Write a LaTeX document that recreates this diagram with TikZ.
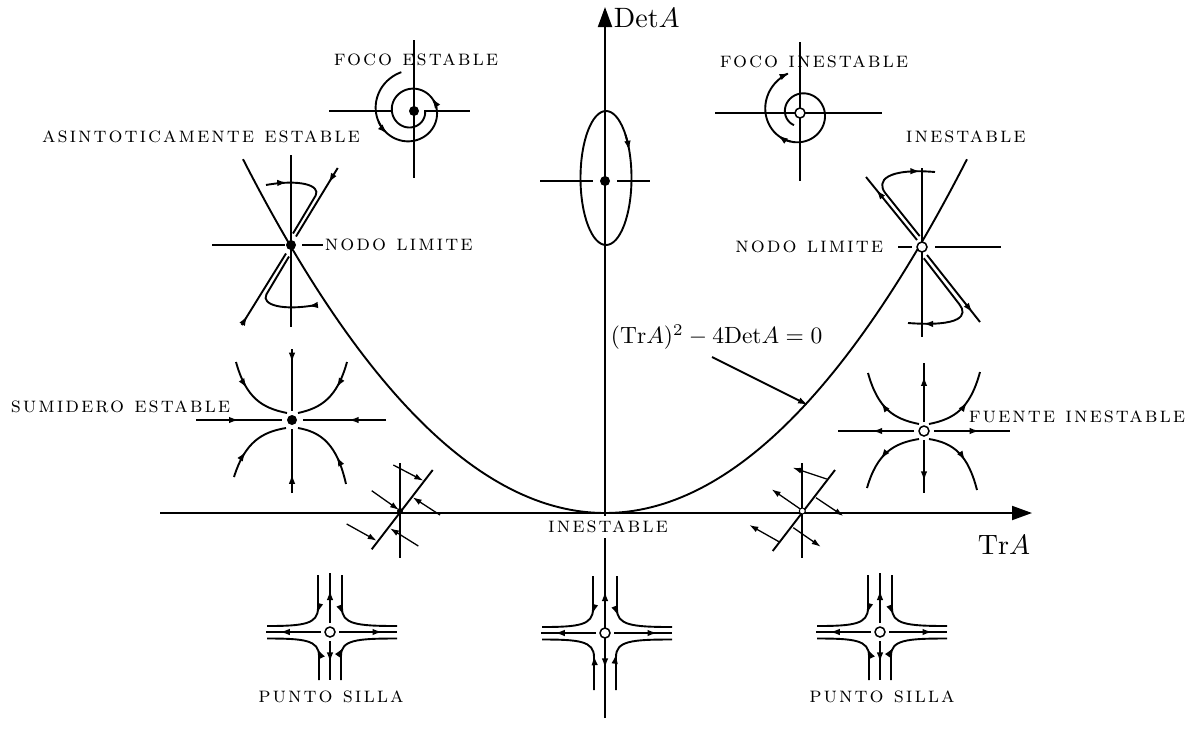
\documentclass[tikz,border=0pt]{standalone}
\usepackage{fontspec}
\newfontfamily\lblfont{lmromancaps10-regular.otf}[LetterSpace=9]
\usetikzlibrary{arrows.meta,decorations.markings}
\begin{document}
\begin{tikzpicture}[x=1pt,y=-1pt,line width=1.9pt,
  >={Latex[length=10pt,width=6.5pt]},
  arr/.style={postaction={decorate,decoration={markings,mark=at position #1 with {\arrow{>}}}}},
  bdot/.style={circle,fill=black,draw=none,inner sep=0pt,minimum size=10pt},
  wdot/.style={circle,draw=black,fill=white,inner sep=0pt,minimum size=10pt,line width=1.5pt},
  lbl/.style={inner sep=0pt,font=\lblfont\fontsize{22}{24}\selectfont},
  axisarrow/.style={-{Triangle[length=20pt,width=14pt]}},
  thin arrows/.style={line width=1.3pt,>={Latex[length=9pt,width=6pt]}},
  pics/saddle/.style={code={
    \draw[arr=0.75] (-9,0)--(-64,0);
    \draw[arr=0.75] (9,0)--(67,0);
    \draw[arr=0.66] (0,-9)--(0,-59);
    \draw[arr=0.55] (0,9)--(0,#1);
    \draw[arr=0.41] (-12,-57)--(-12,-24) .. controls (-12,-8) and (-26,-6) .. (-63,-6);
    \draw[arr=0.41] (12,-57)--(12,-24) .. controls (12,-8) and (26,-6) .. (67,-6);
    \draw[arr=0.37] (-11,#1)--(-11,24) .. controls (-11,8) and (-26,6.5) .. (-63,6.5);
    \draw[arr=0.37] (11,#1)--(11,24) .. controls (11,8) and (26,6.5) .. (67,6.5);
    \node[wdot] at (0,0) {};
  }}
]
\fill[white] (0,0) rectangle (1185,745);
\useasboundingbox (0,0) rectangle (1185,745);

% axes
\draw[axisarrow] (160,513)--(1032,513);
\draw[axisarrow] (605,718)--(605,7);
\node[anchor=west,inner sep=0pt] (detA) at (613,18) {\scalebox{2.8}{$\mathrm{Det}A$}};
\node[inner sep=0pt] (trA) at (1004,545) {\scalebox{2.8}{$\mathrm{Tr}A$}};

% parabola
\draw plot[domain=-3.62:3.62,samples=120] ({605+100*\x},{513-27*\x*\x});
\node[anchor=west,inner sep=0pt] (fm) at (610,337) {\scalebox{2.35}{$(\mathrm{Tr}A)^2-4\mathrm{Det}A=0$}};
\coordinate (fa) at (712,357);
\coordinate (fb) at (808,405);
\draw[->] (fa)--(fb);

% stable focus
\begin{scope}[shift={(414,111)}]
  \draw (-85,0)--(-22,0); \draw (10,0)--(56,0);
  \draw (0,-71)--(0,67);
  \draw plot[domain=104:720,samples=200]
     ({-3+40*exp(-0.0017*(\x-104))*cos(\x)},{-40*exp(-0.0017*(\x-104))*sin(\x)});
  \draw[->] plot[domain=198:224,samples=5]
     ({-3+40*exp(-0.0017*(\x-104))*cos(\x)},{-40*exp(-0.0017*(\x-104))*sin(\x)});
  \draw[->] plot[domain=366:392,samples=5]
     ({-3+40*exp(-0.0017*(\x-104))*cos(\x)},{-40*exp(-0.0017*(\x-104))*sin(\x)});
  \node[bdot] (fs) at (0,0) {};
\end{scope}
\node[lbl,anchor=west] at (333,60) {foco estable};

% unstable focus
\begin{scope}[shift={(800,113)}]
  \draw (-85,0)--(82,0);
  \draw (0,-71)--(0,68);
  \draw[->] plot[domain=0:494,samples=200]
     ({1+14*exp(0.00222*\x)*cos(600-\x)},{-14*exp(0.00222*\x)*sin(600-\x)});
  \draw[->] plot[domain=350:376,samples=5]
     ({1+14*exp(0.00222*\x)*cos(600-\x)},{-14*exp(0.00222*\x)*sin(600-\x)});
  \node[wdot] (fi) at (0,0) {};
\end{scope}
\node[lbl,anchor=west] at (719,62) {foco inestable};

% center
\begin{scope}[shift={(605,181)}]
  \draw (-65,0)--(-12,0); \draw (12,0)--(45,0);
  \draw (1,-3) ellipse [x radius=25.5, y radius=67];
  \draw[->] plot[domain=0:16,samples=5] ({1+25.5*cos(40-\x)},{-3-67*sin(40-\x)});
  \node[bdot] (ce) at (0,0) {};
\end{scope}

% left improper node (stable)
\begin{scope}[shift={(291,245)}]
  \draw (-79,0)--(-6,0);
  \draw (11,0)--(32,0);
  \draw (0,-90)--(0,82);
  \draw[arr=0.22] (46.7,-77)--(5,-8.5);
  \draw[arr=0.13] (-49.3,80)--(-5,8.5);
  \draw[arr=0.21] (-25,-60) .. controls (8,-66) and (30,-60) .. (24.6,-49.4) -- (2,-11.5);
  \draw[arr=0.08] (25,60) .. controls (-8,66) and (-30,60) .. (-24.6,49.4) -- (-2,11.5);
  \node[bdot] (nl) at (0,0) {};
\end{scope}
\node[lbl,anchor=west] at (324,245) {nodo limite};
\node[lbl] at (201,137) {asintoticamente estable};

% right improper node (unstable)
\begin{scope}[shift={(922,247)}]
  \draw (-24,0)--(-10,0); \draw (13,0)--(79,0);
  \draw (0,-79)--(0,90);
  \draw[arr=0.8] (-5,-7)--(-56,-70);
  \draw[arr=0.86] (5,8)--(58,75);
  \draw[arr=0.88] (-2.3,-10.9)--(-36.7,-53.9) .. controls (-46,-66) and (-36,-79) .. (13,-75);
  \draw[arr=0.88] (1.8,11.3)--(37.3,57.2) .. controls (46,68) and (40,80) .. (-14,76);
  \node[wdot] (nr) at (0,0) {};
\end{scope}
\node[lbl,anchor=east] at (884,247) {nodo limite};
\node[lbl,anchor=west] at (905,137) {inestable};

% sink
\begin{scope}[shift={(292,420)}]
  \draw[arr=0.5] (-96,0)--(-10,0);
  \draw[arr=0.45] (94,0)--(11,0);
  \draw[arr=0.22] (0,-71)--(0,-9);
  \draw[arr=0.3] (0,73)--(0,9);
  \draw[arr=0.37] (-56,-58) .. controls (-46,-22) and (-30,-12) .. (-5,-7);
  \draw[arr=0.37] (55,-58) .. controls (45,-22) and (29,-12) .. (6,-7);
  \draw[arr=0.37] (-58,57) .. controls (-47,22) and (-30,12) .. (-6,8);
  \draw[arr=0.37] (54,64) .. controls (45,24) and (29,12) .. (6,8);
  \node[bdot] (sk) at (0,0) {};
\end{scope}
\node[lbl,anchor=east] at (231,407) {sumidero estable};

% source
\begin{scope}[shift={(924,431)}]
  \draw[arr=0.55] (-10,0)--(-86,0);
  \draw[arr=0.6] (10,0)--(86,0);
  \draw[arr=0.78] (0,-9)--(0,-68);
  \draw[arr=0.78] (0,9)--(0,62);
  \draw[arr=0.58] (-5,-7) .. controls (-30,-12) and (-46,-22) .. (-56,-58);
  \draw[arr=0.58] (5,-7) .. controls (30,-12) and (46,-22) .. (56,-59);
  \draw[arr=0.58] (-5,8) .. controls (-30,12) and (-47,22) .. (-57,57);
  \draw[arr=0.58] (5,8) .. controls (30,12) and (44,24) .. (53,59);
  \node[wdot] (so) at (0,0) {};
\end{scope}
\node[lbl,anchor=west] at (968,417) {fuente inestable};

% line of equilibria, Tr<0
\begin{scope}[shift={(400,511)}]
  \draw (0,-48)--(0,47);
  \draw (-28.3,38.3)--(32.7,-41);
  \draw[->,thin arrows] (-6.7,-46)--(23.3,-30.3);
  \draw[->,thin arrows] (-28.3,-20.3)--(-1,-1);
  \draw[->,thin arrows] (40,4)--(12.7,-13.7);
  \draw[->,thin arrows] (-53.3,13)--(-23.3,29.7);
  \draw[->,thin arrows] (18.3,35)--(-10,17.3);
  \fill (0,0) circle (3);
\end{scope}

% line of equilibria, Tr>0
\begin{scope}[shift={(802.3,511)}]
  \draw (0,-48)--(0,47);
  \draw (-29.6,40)--(32.7,-41);
  \draw[->,thin arrows] (24.4,-32)--(-9.6,-43.3);
  \draw[->,thin arrows] (-0.6,-1)--(-30.6,-21.7);
  \draw[->,thin arrows] (13.7,-13.3)--(41,5);
  \draw[->,thin arrows] (-22.3,31.3)--(-53,14);
  \draw[->,thin arrows] (-9,16.7)--(18.4,35.7);
  \node[wdot,minimum size=6pt,line width=1pt] at (0,0) {};
\end{scope}
\node[lbl,fill=white,inner xsep=1pt,inner ysep=5pt] at (608,527) {inestable};

% saddles
\pic at (330,632) {saddle=48};
\pic at (605,633) {saddle=57};
\pic at (880,632) {saddle=48};
\node[lbl] at (331,697) {punto silla};
\node[lbl] at (882,697) {punto silla};
\end{tikzpicture}
\end{document}
